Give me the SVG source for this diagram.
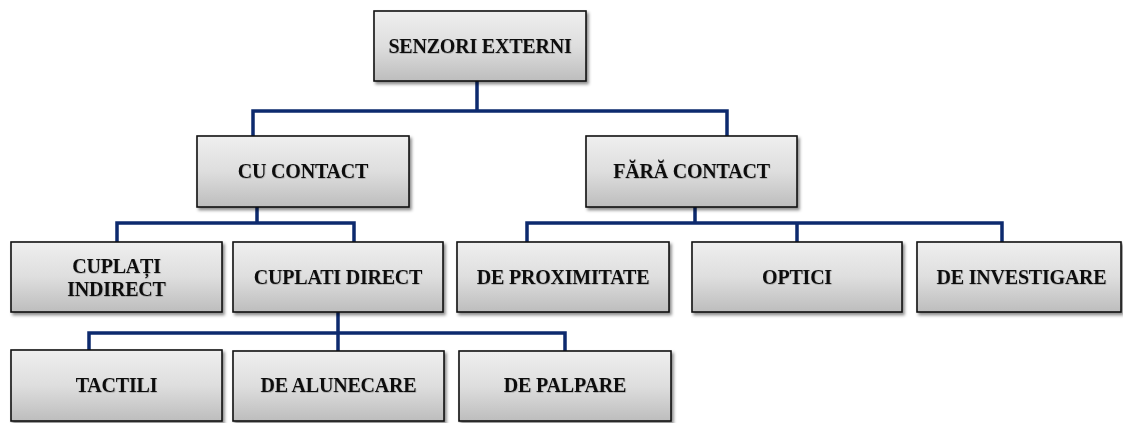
<svg xmlns="http://www.w3.org/2000/svg" width="1123" height="423" viewBox="0 0 1123 423">
  <defs>
    <linearGradient id="boxFill" x1="0" y1="0" x2="0" y2="1">
      <stop offset="0" stop-color="#efefef"/>
      <stop offset="0.5" stop-color="#dedede"/>
      <stop offset="1" stop-color="#bdbdbd"/>
    </linearGradient>
    <filter id="shadow" x="-5%" y="-10%" width="115%" height="130%">
      <feDropShadow dx="2" dy="2.5" stdDeviation="1.6" flood-color="#000" flood-opacity="0.45"/>
    </filter>
    <filter id="textShadow" x="-5%" y="-20%" width="110%" height="140%">
      <feDropShadow dx="0.5" dy="0.7" stdDeviation="0.4" flood-color="#000" flood-opacity="0.25"/>
    </filter>
  </defs>
  <style>
    .box { fill: url(#boxFill); stroke: #111; stroke-width: 1.6; filter: url(#shadow); }
    .label { font-family: "Liberation Serif", "Times New Roman", serif; font-weight: bold; font-size: 20px; letter-spacing: -0.2px; fill: #111; text-anchor: middle; filter: url(#textShadow); }
    .link { fill: none; stroke: #0d2a6e; stroke-width: 3.5; stroke-linejoin: miter; }
  </style>
  <rect width="1123" height="423" fill="#ffffff"/>

  <!-- connectors -->
  <g id="connectors">
    <path class="link" d="M477 81 V111 M253 136 V111 H727 V136"/>
    <path class="link" d="M257 207 V223 M117 242 V223 H354 V242"/>
    <path class="link" d="M695 207 V223 M527 242 V223 H1002 V242 M797 223 V242"/>
    <path class="link" d="M338 312 V351 M89 351 V333 H565 V351"/>
  </g>

  <g id="senzori-externi">
    <rect class="box" x="374" y="11" width="212" height="70"/>
    <text class="label" x="480" y="53">SENZORI EXTERNI</text>
  </g>

  <g id="cu-contact">
    <rect class="box" x="197" y="136" width="212" height="71"/>
    <text class="label" x="303" y="178">CU CONTACT</text>
  </g>

  <g id="fara-contact">
    <rect class="box" x="586" y="136" width="211" height="71"/>
    <text class="label" x="691.5" y="178">FĂRĂ CONTACT</text>
  </g>

  <g id="cuplati-indirect">
    <rect class="box" x="11" y="242" width="211" height="70"/>
    <text class="label" x="116.5" y="272.5">CUPLAȚI</text>
    <text class="label" x="116.5" y="296">INDIRECT</text>
  </g>

  <g id="cuplati-direct">
    <rect class="box" x="233" y="242" width="210" height="70"/>
    <text class="label" x="338" y="284">CUPLATI DIRECT</text>
  </g>

  <g id="de-proximitate">
    <rect class="box" x="457" y="242" width="212" height="70"/>
    <text class="label" x="563" y="284">DE PROXIMITATE</text>
  </g>

  <g id="optici">
    <rect class="box" x="692" y="242" width="210" height="70"/>
    <text class="label" x="797" y="284">OPTICI</text>
  </g>

  <g id="de-investigare">
    <rect class="box" x="917" y="242" width="204" height="70"/>
    <text class="label" x="1021.5" y="284">DE INVESTIGARE</text>
  </g>

  <g id="tactili">
    <rect class="box" x="11" y="350" width="211" height="71"/>
    <text class="label" x="116.5" y="392">TACTILI</text>
  </g>

  <g id="de-alunecare">
    <rect class="box" x="233" y="351" width="211" height="70"/>
    <text class="label" x="338.5" y="392">DE ALUNECARE</text>
  </g>

  <g id="de-palpare">
    <rect class="box" x="459" y="351" width="212" height="70"/>
    <text class="label" x="565" y="392">DE PALPARE</text>
  </g>
</svg>
